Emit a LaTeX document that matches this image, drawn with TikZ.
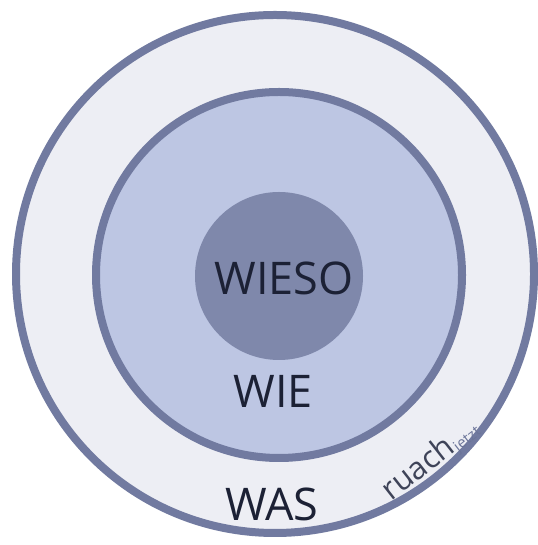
\documentclass[tikz,border=0pt]{standalone}
\usepackage{fontspec}
\setmainfont{Open Sans}
\usetikzlibrary{positioning}
\definecolor{ringline}{HTML}{717AA0}
\definecolor{wasfill}{HTML}{EDEEF4}
\definecolor{wiefill}{HTML}{BDC6E3}
\definecolor{wiesofill}{HTML}{7F88AB}
\definecolor{wordtext}{HTML}{1C2135}
\definecolor{logotext}{HTML}{3E4358}
\definecolor{logolight}{HTML}{6B7499}

\begin{document}
\begin{tikzpicture}[x=1pt, y=1pt,
	ring/.style={circle, draw=ringline, line width=8pt, inner sep=0pt},
	core/.style={circle, fill=wiesofill, inner sep=0pt},
	word/.style={inner sep=0pt, text=wordtext, font=\fontsize{45}{45}\selectfont},
	logo/.style={inner sep=0pt, rotate=38}]
	\useasboundingbox (0,0) rectangle (537,545);
	\fill[white] (0,0) rectangle (537,545);
	% circles
	\node[ring, fill=wasfill, minimum size=518pt] (was) at (275,271) {};
	\node[ring, fill=wiefill, minimum size=366pt] (wie) at (279,270) {};
	\node[core, minimum size=168pt] (wieso) at (279,269) {};
	% labels
	\node[word] (wiesotext) at (284,267) {WIESO};
	\node[word] (wietext) at (273,154) {WIE};
	\node[word] (wastext) at (272,41) {WAS};
	\node[logo, text=logotext, font=\fontsize{31}{31}\selectfont] (ruach) at (417,78) {ruach};
	\node[logo, anchor=base west, text=logolight, font=\fontsize{15}{15}\selectfont]
	(jetzt) at ([shift={(-52:2pt)}]ruach.base east) {jetzt};
\end{tikzpicture}
\end{document}
